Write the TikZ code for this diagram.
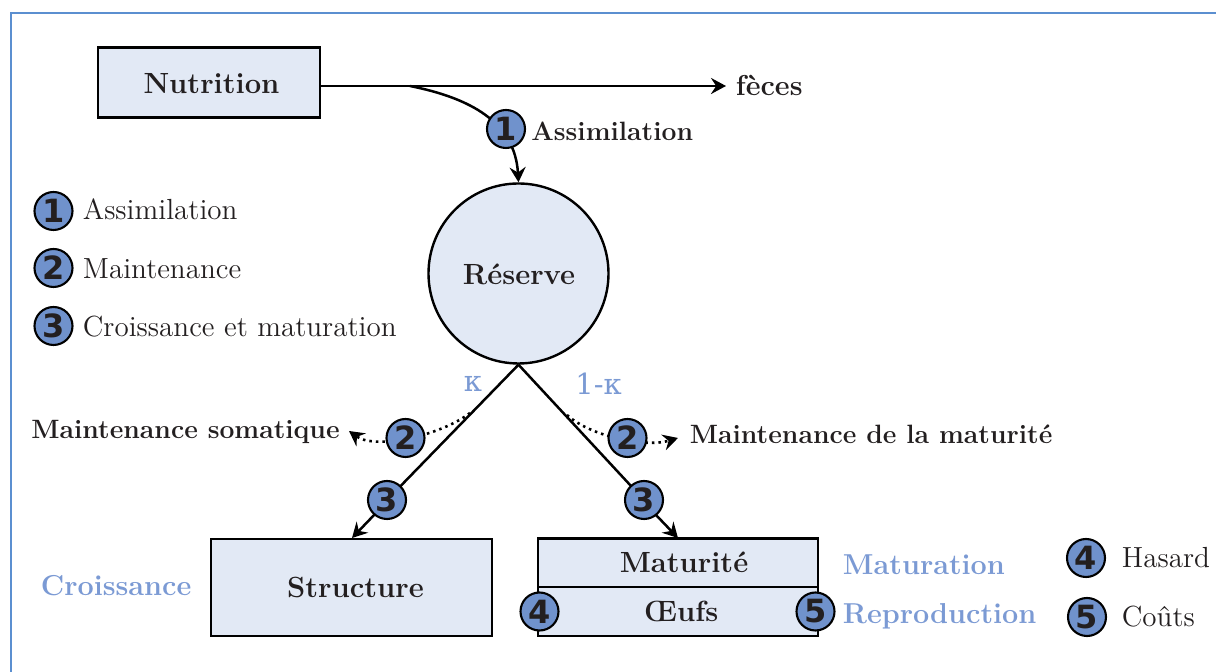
\documentclass[tikz,border=0pt]{standalone}
\usepackage{fontspec}
\newfontfamily\numfont{DejaVu Sans}
\newfontfamily\kappafont{DejaVu Serif}
\usetikzlibrary{arrows.meta}
\definecolor{fillb}{HTML}{E2E9F5}
\definecolor{numb}{HTML}{7092CC}
\definecolor{labb}{HTML}{7B9AD4}
\definecolor{framec}{HTML}{5B8FD0}
\definecolor{inkc}{HTML}{231F20}
\newcommand{\sz}{\fontsize{14.6}{17}\selectfont}
\newcommand{\szs}{\fontsize{13.25}{16}\selectfont}
\tikzset{
 x=0.5pt,y=-0.5pt,
 box/.style={draw=black,fill=fillb,line width=1.2pt,inner sep=0pt,text=inkc,font=\sz\bfseries},
 num/.style={circle,draw=black,fill=numb,line width=1.05pt,minimum size=19pt,inner sep=0pt,text=inkc,font=\fontsize{16}{16}\selectfont\numfont\bfseries},
 arr/.style={draw=black,line width=1.25pt,-{Stealth[length=7.5pt,width=8pt,inset=2.6pt]}},
 dots/.style={arr,dotted,line width=1.3pt},
 lab/.style={text=inkc,font=\szs\bfseries,inner sep=0pt},
 leg/.style={text=inkc,font=\fontsize{14.55}{17}\selectfont,inner sep=0pt,anchor=west},
 blue/.style={text=labb,font=\fontsize{14.4}{17}\selectfont\bfseries,inner sep=0pt},
 txt/.style={inner sep=0pt,text=inkc,font=\sz\bfseries},
 line/.style={draw=black,line width=1.25pt},
}
\begin{document}
\begin{tikzpicture}
\useasboundingbox (0,0) rectangle (1216,672);
\fill[white] (0,0) rectangle (1216,672);
\draw[framec,line width=0.6pt] (11,672) -- (11,13) -- (1216,13);
% boxes
\node[box,minimum width=111pt,minimum height=35pt] (nut) at (209,82.5) {};
\node[txt] (nutt) at (211.5,84) {Nutrition};
\node[box,circle,minimum size=90pt] (res) at (518.5,273.5) {};
\node[txt] (rest) at (519,274) {Réserve};
\node[box,minimum width=140.5pt,minimum height=48.5pt] (str) at (351.5,587.5) {};
\node[txt] (strt) at (355.5,587.5) {Structure};
\node[box,minimum width=140pt,minimum height=24.5pt] (mat) at (678,563) {};
\node[txt] (matt) at (684,562.5) {Maturité};
\node[box,minimum width=140pt,minimum height=24.5pt] (oeu) at (678,611.5) {};
\node[txt] (oeut) at (681,611.5) {Œufs};
% outputs
\node[lab,anchor=west,font=\fontsize{14.4}{17}\selectfont\bfseries] (fec) at (735.5,85) {fèces};
\coordinate (branch) at (410,86);
\coordinate (stub) at (726,86);
\draw[arr] (nut.east |- branch) -- (stub);
\draw[arr] (branch) .. controls (470,98) and (515,122) .. (res.north);
\node[num] (a1) at (506,129) {1};
\node[lab,anchor=west] (assim) at (531,131) {Assimilation};
% kappa lines
\coordinate (apex) at (res.south);
\coordinate (kl) at (352,538);
\coordinate (kr) at (678,538);
\draw[line] (apex) -- (387,500);
\draw[arr] (376,513) -- (kl);
\draw[line] (apex) -- (644,500);
\draw[arr] (656,515) -- (kr);
\node[num] (c3l) at (387,500) {3};
\node[num] (c3r) at (644,500) {3};
\node[font=\fontsize{14.5}{15}\selectfont\kappafont,text=labb,inner sep=0pt] (ka) at (473,384) {κ};
\node[font=\fontsize{14.5}{15}\selectfont\kappafont,text=labb,inner sep=0pt] (kb) at (598.5,384) {1-κ};
% dotted
\coordinate (dl) at (470,413);
\coordinate (dr) at (567,415);
\coordinate (tl) at (349,431);
\coordinate (tr) at (678,438);
\draw[dots] (dl) .. controls (440,436) and (375,450) .. (tl);
\draw[dots] (dr) .. controls (590,436) and (645,448) .. (tr);
\node[num] (c2l) at (405.5,438) {2};
\node[num] (c2r) at (627.5,438) {2};
\node[lab,anchor=east] (ms) at (340,432) {Maintenance somatique};
\node[lab,anchor=west] (mm) at (689.5,434.5) {Maintenance de la maturité};
% legend
\node[num] (l1) at (53.5,211) {1};
\node[num] (l2) at (53.5,268) {2};
\node[num] (l3) at (53.5,326) {3};
\node[leg] (t1) at (82.5,209.5) {Assimilation};
\node[leg] (t2) at (82.5,269) {Maintenance};
\node[leg] (t3) at (82.5,327) {Croissance et maturation};
% bottom
\node[blue,anchor=west] (cro) at (40.5,586) {Croissance};
\node[blue,anchor=west] (mtr) at (842.5,565) {Maturation};
\node[blue,anchor=west] (rep) at (842.5,616) {Reproduction};
\node[num] (o4) at (539.5,611.5) {4};
\node[num] (o5) at (815.5,611.5) {5};
\node[num] (l4) at (1086,558) {4};
\node[num] (l5) at (1087,617) {5};
\node[leg] (t4) at (1121.5,558) {Hasard};
\node[leg] (t5) at (1121.5,617) {Coûts};
\end{tikzpicture}
\end{document}
